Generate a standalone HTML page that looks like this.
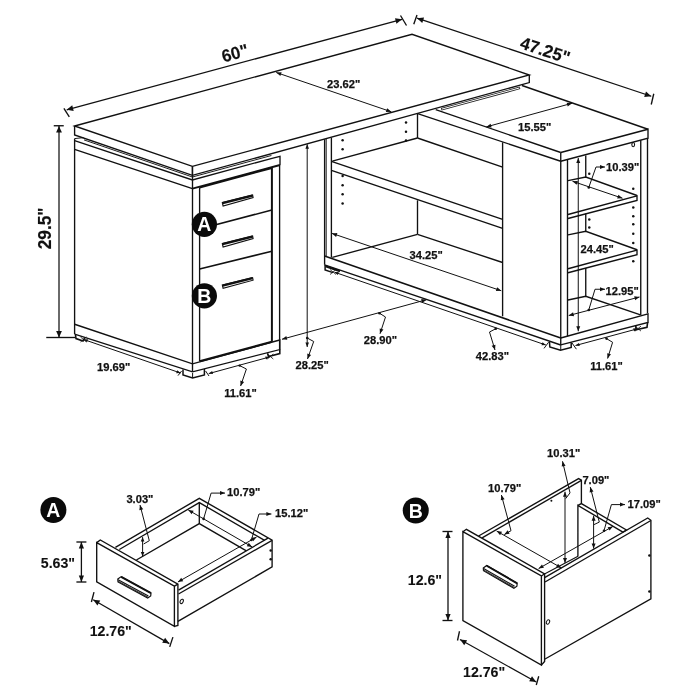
<!DOCTYPE html>
<html lang="en"><head><meta charset="utf-8"><title>L-shaped desk dimensions</title>
<style>
html,body{margin:0;padding:0;background:#fff;}
body{width:700px;height:700px;overflow:hidden;}
svg{display:block;will-change:transform;}
svg text{font-family:"Liberation Sans",Arial,Helvetica,sans-serif;}
</style></head><body>
<svg width="700" height="700" viewBox="0 0 700 700">
<rect width="700" height="700" fill="#fff"/>
<polygon points="74.60,126.00 412.00,34.25 529.30,75.00 192.40,166.40" fill="none" stroke="#111" stroke-width="1.35" stroke-linejoin="miter"/>
<polyline points="74.60,126.00 74.60,135.00 192.40,175.40 529.30,82.60 529.30,75.00" fill="none" stroke="#111" stroke-width="1.35" stroke-linejoin="miter"/>
<line x1="192.40" y1="166.40" x2="192.40" y2="175.40" stroke="#111" stroke-width="1.35"/>
<line x1="84.00" y1="139.90" x2="192.40" y2="177.00" stroke="#111" stroke-width="0.95"/>
<line x1="192.40" y1="177.00" x2="271.40" y2="155.50" stroke="#111" stroke-width="0.95"/>
<line x1="74.60" y1="138.60" x2="83.60" y2="137.60" stroke="#111" stroke-width="0.95"/>
<polyline points="74.60,140.70 192.40,180.00 272.00,158.30 280.00,156.40 280.00,165.00" fill="none" stroke="#111" stroke-width="1.35" stroke-linejoin="miter"/>
<polyline points="74.60,149.30 192.40,188.60" fill="none" stroke="#111" stroke-width="1.35" stroke-linejoin="miter"/>
<line x1="192.40" y1="188.60" x2="280.00" y2="165.00" stroke="#111" stroke-width="1.9"/>
<line x1="74.60" y1="138.60" x2="74.60" y2="334.20" stroke="#111" stroke-width="1.35"/>
<line x1="192.50" y1="166.40" x2="192.50" y2="371.80" stroke="#111" stroke-width="1.35"/>
<line x1="279.60" y1="165.00" x2="279.60" y2="349.60" stroke="#111" stroke-width="1.35"/>
<line x1="199.60" y1="187.50" x2="199.60" y2="361.30" stroke="#111" stroke-width="1.35"/>
<line x1="271.90" y1="168.00" x2="271.90" y2="341.80" stroke="#111" stroke-width="2.0"/>
<line x1="199.60" y1="187.60" x2="271.90" y2="168.00" stroke="#111" stroke-width="1.9"/>
<line x1="199.60" y1="229.00" x2="271.90" y2="210.00" stroke="#111" stroke-width="1.6"/>
<line x1="199.60" y1="269.00" x2="271.90" y2="251.20" stroke="#111" stroke-width="1.6"/>
<line x1="199.60" y1="361.30" x2="271.90" y2="341.80" stroke="#111" stroke-width="2.2"/>
<polygon points="222.30,202.60 252.60,195.00 253.10,197.60 223.10,206.00" fill="#fff" stroke="#111" stroke-width="1.1" stroke-linejoin="miter"/>
<line x1="222.60" y1="203.20" x2="252.60" y2="195.60" stroke="#111" stroke-width="2.3"/>
<polygon points="222.30,243.60 252.60,236.00 253.10,238.60 223.10,247.00" fill="#fff" stroke="#111" stroke-width="1.1" stroke-linejoin="miter"/>
<line x1="222.60" y1="244.20" x2="252.60" y2="236.60" stroke="#111" stroke-width="2.3"/>
<polygon points="222.30,285.00 252.60,277.60 253.10,280.20 223.10,288.40" fill="#fff" stroke="#111" stroke-width="1.1" stroke-linejoin="miter"/>
<line x1="222.60" y1="285.60" x2="252.60" y2="278.20" stroke="#111" stroke-width="2.3"/>
<polyline points="74.60,324.25 192.50,363.80 279.80,340.00 279.80,349.60 192.50,371.80 74.60,334.20" fill="none" stroke="#111" stroke-width="1.35" stroke-linejoin="miter"/>
<polyline points="183.00,369.50 183.00,375.00 192.60,378.00 204.40,375.00 204.40,369.00" fill="none" stroke="#111" stroke-width="1.5" stroke-linejoin="miter"/>
<line x1="192.60" y1="373.00" x2="192.60" y2="378.00" stroke="#111" stroke-width="1.0"/>
<polyline points="267.50,353.20 268.50,356.50 279.80,353.60 279.80,349.60" fill="none" stroke="#111" stroke-width="1.6" stroke-linejoin="miter"/>
<polyline points="75.50,335.00 76.00,338.60 83.00,341.00 84.50,338.00" fill="none" stroke="#111" stroke-width="1.6" stroke-linejoin="miter"/>
<circle cx="204.40" cy="224.30" r="12.6" fill="#0a0a0a"/>
<text x="204.40" y="231.32" font-size="19.5" font-weight="bold" text-anchor="middle" fill="#fff" textLength="14.08" lengthAdjust="spacingAndGlyphs">A</text>
<circle cx="204.40" cy="295.80" r="12.6" fill="#0a0a0a"/>
<text x="204.40" y="302.82" font-size="19.5" font-weight="bold" text-anchor="middle" fill="#fff" textLength="14.08" lengthAdjust="spacingAndGlyphs">B</text>
<line x1="324.60" y1="139.20" x2="324.60" y2="264.80" stroke="#111" stroke-width="1.35"/>
<line x1="326.20" y1="139.00" x2="326.20" y2="256.60" stroke="#111" stroke-width="0.95"/>
<line x1="331.40" y1="137.50" x2="331.40" y2="257.60" stroke="#111" stroke-width="1.35"/>
<circle cx="342.60" cy="140.30" r="1.25" fill="#111"/>
<circle cx="342.60" cy="149.20" r="1.25" fill="#111"/>
<circle cx="342.60" cy="176.00" r="1.25" fill="#111"/>
<circle cx="342.60" cy="185.20" r="1.25" fill="#111"/>
<circle cx="342.60" cy="194.30" r="1.25" fill="#111"/>
<circle cx="342.60" cy="203.40" r="1.25" fill="#111"/>
<circle cx="406.00" cy="122.60" r="1.25" fill="#111"/>
<circle cx="406.00" cy="131.70" r="1.25" fill="#111"/>
<circle cx="406.00" cy="140.60" r="1.25" fill="#111"/>
<line x1="417.50" y1="113.70" x2="417.50" y2="138.00" stroke="#111" stroke-width="1.35"/>
<line x1="417.50" y1="200.30" x2="417.50" y2="234.30" stroke="#111" stroke-width="1.35"/>
<line x1="332.30" y1="161.20" x2="417.50" y2="138.00" stroke="#111" stroke-width="1.35"/>
<line x1="417.50" y1="138.00" x2="502.60" y2="167.10" stroke="#111" stroke-width="1.35"/>
<line x1="331.40" y1="161.40" x2="502.60" y2="219.40" stroke="#111" stroke-width="1.35"/>
<line x1="331.40" y1="170.30" x2="502.60" y2="228.30" stroke="#111" stroke-width="1.35"/>
<line x1="417.50" y1="234.30" x2="502.60" y2="262.50" stroke="#111" stroke-width="1.35"/>
<line x1="332.30" y1="257.40" x2="417.50" y2="234.30" stroke="#111" stroke-width="1.35"/>
<line x1="502.60" y1="142.30" x2="502.60" y2="316.30" stroke="#111" stroke-width="1.35"/>
<line x1="435.70" y1="109.70" x2="560.75" y2="152.50" stroke="#111" stroke-width="1.35"/>
<line x1="417.70" y1="113.70" x2="560.75" y2="161.25" stroke="#111" stroke-width="1.35"/>
<line x1="441.20" y1="109.30" x2="520.00" y2="87.80" stroke="#222" stroke-width="2.7"/>
<line x1="441.90" y1="109.10" x2="519.30" y2="88.00" stroke="#fff" stroke-width="1.0"/>
<line x1="522.00" y1="85.50" x2="648.00" y2="129.25" stroke="#111" stroke-width="1.35"/>
<polyline points="560.75,152.50 648.00,129.25 648.00,138.25 560.75,161.25" fill="none" stroke="#111" stroke-width="1.35" stroke-linejoin="miter"/>
<line x1="324.60" y1="256.00" x2="560.75" y2="338.00" stroke="#111" stroke-width="1.5"/>
<line x1="324.60" y1="264.80" x2="560.75" y2="345.00" stroke="#111" stroke-width="1.35"/>
<polyline points="325.10,265.00 325.10,270.00 333.00,272.60" fill="none" stroke="#111" stroke-width="1.5" stroke-linejoin="miter"/>
<line x1="325.50" y1="266.30" x2="340.00" y2="271.20" stroke="#111" stroke-width="2.0"/>
<line x1="560.75" y1="152.50" x2="560.75" y2="345.00" stroke="#111" stroke-width="1.35"/>
<line x1="567.50" y1="159.50" x2="567.50" y2="336.20" stroke="#111" stroke-width="1.35"/>
<line x1="640.75" y1="140.20" x2="640.75" y2="315.00" stroke="#111" stroke-width="1.35"/>
<line x1="647.50" y1="138.25" x2="647.50" y2="313.25" stroke="#111" stroke-width="1.35"/>
<line x1="585.75" y1="155.50" x2="585.75" y2="177.00" stroke="#111" stroke-width="1.35"/>
<line x1="585.75" y1="213.50" x2="585.75" y2="231.25" stroke="#111" stroke-width="1.35"/>
<line x1="585.75" y1="268.00" x2="585.75" y2="296.25" stroke="#111" stroke-width="1.35"/>
<polyline points="568.00,180.60 585.75,177.00 637.00,195.50" fill="none" stroke="#111" stroke-width="1.35" stroke-linejoin="miter"/>
<polyline points="568.00,214.50 637.00,195.80 637.00,200.50 568.00,218.50" fill="none" stroke="#111" stroke-width="1.35" stroke-linejoin="miter"/>
<polyline points="568.00,234.85 585.75,231.25 637.00,249.75" fill="none" stroke="#111" stroke-width="1.35" stroke-linejoin="miter"/>
<polyline points="568.00,268.75 637.00,250.05 637.00,254.75 568.00,272.75" fill="none" stroke="#111" stroke-width="1.35" stroke-linejoin="miter"/>
<polyline points="568.00,300.00 585.75,296.25 640.50,314.80" fill="none" stroke="#111" stroke-width="1.35" stroke-linejoin="miter"/>
<polyline points="560.75,338.00 648.00,313.80 648.00,322.40 560.75,344.80" fill="none" stroke="#111" stroke-width="1.35" stroke-linejoin="miter"/>
<polyline points="549.50,342.00 549.80,347.00 560.50,350.30 571.20,347.40 571.20,342.50" fill="none" stroke="#111" stroke-width="1.5" stroke-linejoin="miter"/>
<line x1="560.75" y1="345.00" x2="560.75" y2="350.00" stroke="#111" stroke-width="1.0"/>
<polyline points="635.80,326.00 636.00,329.70 647.00,327.30 647.60,322.40" fill="none" stroke="#111" stroke-width="1.6" stroke-linejoin="miter"/>
<circle cx="633.25" cy="188.75" r="1.25" fill="#111"/>
<circle cx="633.25" cy="207.50" r="1.25" fill="#111"/>
<circle cx="633.25" cy="216.25" r="1.25" fill="#111"/>
<circle cx="633.25" cy="224.25" r="1.25" fill="#111"/>
<circle cx="633.25" cy="233.75" r="1.25" fill="#111"/>
<circle cx="633.25" cy="243.00" r="1.25" fill="#111"/>
<circle cx="633.25" cy="261.25" r="1.25" fill="#111"/>
<circle cx="589.25" cy="173.75" r="1.25" fill="#111"/>
<circle cx="589.25" cy="219.50" r="1.25" fill="#111"/>
<circle cx="589.25" cy="227.50" r="1.25" fill="#111"/>
<ellipse cx="633.2" cy="144.6" rx="1.4" ry="2.1" fill="none" stroke="#111" stroke-width="1.1"/>
<line x1="66.70" y1="109.80" x2="402.00" y2="19.30" stroke="#111" stroke-width="1.25"/>
<polygon points="402.00,19.30 396.48,23.79 394.97,18.19" fill="#111"/>
<polygon points="66.70,109.80 72.22,105.31 73.73,110.91" fill="#111"/>
<line x1="63.90" y1="108.30" x2="69.30" y2="116.90" stroke="#111" stroke-width="1.35"/>
<line x1="400.50" y1="15.50" x2="406.50" y2="25.50" stroke="#111" stroke-width="1.35"/>
<text x="236.50" y="59.00" font-size="17.5" font-weight="bold" text-anchor="middle" fill="#111" textLength="27.07" lengthAdjust="spacingAndGlyphs" stroke="#111" stroke-width="0.15" transform="rotate(-15 236.50 59.00)">60&quot;</text>
<line x1="417.00" y1="18.20" x2="651.25" y2="96.25" stroke="#111" stroke-width="1.25"/>
<polygon points="651.25,96.25 644.17,96.95 646.00,91.44" fill="#111"/>
<polygon points="417.00,18.20 424.08,17.50 422.25,23.01" fill="#111"/>
<line x1="417.00" y1="15.00" x2="413.75" y2="24.25" stroke="#111" stroke-width="1.35"/>
<line x1="653.75" y1="93.75" x2="651.25" y2="104.50" stroke="#111" stroke-width="1.35"/>
<text x="543.40" y="56.00" font-size="17.5" font-weight="bold" text-anchor="middle" fill="#111" textLength="51.31" lengthAdjust="spacingAndGlyphs" stroke="#111" stroke-width="0.15" transform="rotate(18 543.40 56.00)">47.25&quot;</text>
<line x1="59.00" y1="126.00" x2="59.00" y2="337.50" stroke="#111" stroke-width="1.25"/>
<polygon points="59.00,337.50 56.10,331.00 61.90,331.00" fill="#111"/>
<polygon points="59.00,126.00 61.90,132.50 56.10,132.50" fill="#111"/>
<line x1="53.75" y1="125.75" x2="63.75" y2="125.75" stroke="#111" stroke-width="1.35"/>
<line x1="46.25" y1="337.50" x2="75.00" y2="337.50" stroke="#111" stroke-width="1.35"/>
<text x="51.40" y="228.35" font-size="17.5" font-weight="bold" text-anchor="middle" fill="#111" textLength="41.72" lengthAdjust="spacingAndGlyphs" stroke="#111" stroke-width="0.15" transform="rotate(-90 51.40 228.35)">29.5&quot;</text>
<line x1="276.25" y1="72.50" x2="391.25" y2="111.75" stroke="#111" stroke-width="1.0"/>
<polygon points="391.25,111.75 385.87,112.03 387.16,108.24" fill="#111"/>
<polygon points="276.25,72.50 281.63,72.22 280.34,76.01" fill="#111"/>
<text x="327.00" y="88.00" font-size="11.8" font-weight="bold" text-anchor="start" fill="#111" textLength="33.23" lengthAdjust="spacingAndGlyphs" stroke="#111" stroke-width="0.25">23.62&quot;</text>
<line x1="486.30" y1="126.90" x2="572.00" y2="103.25" stroke="#111" stroke-width="1.0"/>
<polygon points="572.00,103.25 567.71,106.51 566.65,102.65" fill="#111"/>
<polygon points="486.30,126.90 490.59,123.64 491.65,127.50" fill="#111"/>
<text x="518.00" y="130.50" font-size="11.8" font-weight="bold" text-anchor="start" fill="#111" textLength="33.23" lengthAdjust="spacingAndGlyphs" stroke="#111" stroke-width="0.25">15.55&quot;</text>
<line x1="332.00" y1="233.40" x2="501.25" y2="290.75" stroke="#111" stroke-width="1.0"/>
<polygon points="501.25,290.75 495.87,291.04 497.16,287.25" fill="#111"/>
<polygon points="332.00,233.40 337.38,233.11 336.09,236.90" fill="#111"/>
<text x="409.50" y="258.75" font-size="11.8" font-weight="bold" text-anchor="start" fill="#111" textLength="33.23" lengthAdjust="spacingAndGlyphs" stroke="#111" stroke-width="0.25">34.25&quot;</text>
<line x1="307.20" y1="144.30" x2="307.20" y2="347.00" stroke="#111" stroke-width="1.0"/>
<polygon points="307.20,347.00 305.40,342.50 309.00,342.50" fill="#111"/>
<polygon points="307.20,144.30 309.00,148.80 305.40,148.80" fill="#111"/>
<polyline points="307.20,338.00 313.70,341.50 307.50,359.00" fill="none" stroke="#111" stroke-width="1.0" stroke-linejoin="miter"/>
<polygon points="307.50,359.00 307.28,353.62 311.05,354.95" fill="#111"/>
<circle cx="307.20" cy="338.00" r="1.3" fill="#111"/>
<text x="295.50" y="368.60" font-size="11.8" font-weight="bold" text-anchor="start" fill="#111" textLength="33.23" lengthAdjust="spacingAndGlyphs" stroke="#111" stroke-width="0.25">28.25&quot;</text>
<line x1="282.00" y1="339.25" x2="426.50" y2="299.70" stroke="#111" stroke-width="1.0"/>
<polygon points="426.50,299.70 422.21,302.95 421.15,299.09" fill="#111"/>
<polygon points="282.00,339.25 286.29,336.00 287.35,339.86" fill="#111"/>
<polyline points="379.50,313.25 385.50,317.00 380.00,333.75" fill="none" stroke="#111" stroke-width="1.0" stroke-linejoin="miter"/>
<polygon points="380.00,333.75 379.66,328.38 383.46,329.62" fill="#111"/>
<circle cx="379.50" cy="313.25" r="1.3" fill="#111"/>
<text x="363.75" y="344.20" font-size="11.8" font-weight="bold" text-anchor="start" fill="#111" textLength="33.23" lengthAdjust="spacingAndGlyphs" stroke="#111" stroke-width="0.25">28.90&quot;</text>
<line x1="334.50" y1="272.20" x2="545.80" y2="345.00" stroke="#111" stroke-width="1.0"/>
<polygon points="545.80,345.00 541.50,345.21 542.54,342.18" fill="#111"/>
<polygon points="334.50,272.20 338.80,271.99 337.76,275.02" fill="#111"/>
<polyline points="495.75,328.75 489.50,332.00 495.00,350.00" fill="none" stroke="#111" stroke-width="1.0" stroke-linejoin="miter"/>
<polygon points="495.00,350.00 491.63,345.80 495.45,344.63" fill="#111"/>
<circle cx="495.75" cy="328.75" r="1.3" fill="#111"/>
<text x="475.75" y="360.30" font-size="11.8" font-weight="bold" text-anchor="start" fill="#111" textLength="33.23" lengthAdjust="spacingAndGlyphs" stroke="#111" stroke-width="0.25">42.83&quot;</text>
<line x1="83.75" y1="339.50" x2="180.50" y2="373.00" stroke="#111" stroke-width="1.0"/>
<polygon points="180.50,373.00 176.20,373.20 177.24,370.18" fill="#111"/>
<polygon points="83.75,339.50 88.05,339.30 87.01,342.32" fill="#111"/>
<text x="97.00" y="371.25" font-size="11.8" font-weight="bold" text-anchor="start" fill="#111" textLength="33.23" lengthAdjust="spacingAndGlyphs" stroke="#111" stroke-width="0.25">19.69&quot;</text>
<line x1="208.75" y1="373.60" x2="269.50" y2="357.00" stroke="#111" stroke-width="1.0"/>
<polygon points="269.50,357.00 266.06,359.60 265.22,356.51" fill="#111"/>
<polygon points="208.75,373.60 212.19,371.00 213.03,374.09" fill="#111"/>
<polyline points="239.60,365.60 246.40,369.00 240.60,386.00" fill="none" stroke="#111" stroke-width="1.0" stroke-linejoin="miter"/>
<polygon points="240.60,386.00 240.32,380.62 244.11,381.91" fill="#111"/>
<circle cx="239.60" cy="365.60" r="1.2" fill="#111"/>
<text x="224.20" y="397.20" font-size="11.8" font-weight="bold" text-anchor="start" fill="#111" textLength="32.61" lengthAdjust="spacingAndGlyphs" stroke="#111" stroke-width="0.25">11.61&quot;</text>
<line x1="575.50" y1="345.50" x2="637.50" y2="328.80" stroke="#111" stroke-width="1.0"/>
<polygon points="637.50,328.80 634.05,331.39 633.22,328.30" fill="#111"/>
<polygon points="575.50,345.50 578.95,342.91 579.78,346.00" fill="#111"/>
<polyline points="606.50,338.60 612.60,342.30 607.60,358.50" fill="none" stroke="#111" stroke-width="1.0" stroke-linejoin="miter"/>
<polygon points="607.60,358.50 607.16,353.13 610.99,354.31" fill="#111"/>
<circle cx="606.50" cy="338.60" r="1.3" fill="#111"/>
<text x="590.20" y="370.20" font-size="11.8" font-weight="bold" text-anchor="start" fill="#111" textLength="32.61" lengthAdjust="spacingAndGlyphs" stroke="#111" stroke-width="0.25">11.61&quot;</text>
<line x1="572.50" y1="181.25" x2="622.50" y2="198.25" stroke="#111" stroke-width="1.0"/>
<polygon points="622.50,198.25 617.12,198.53 618.41,194.75" fill="#111"/>
<polygon points="572.50,181.25 577.88,180.97 576.59,184.75" fill="#111"/>
<polyline points="588.75,187.50 596.00,167.00 605.00,167.00" fill="none" stroke="#111" stroke-width="1.0" stroke-linejoin="miter"/>
<polygon points="605.00,167.00 600.00,169.00 600.00,165.00" fill="#111"/>
<circle cx="588.75" cy="187.50" r="1.3" fill="#111"/>
<text x="606.00" y="171.25" font-size="11.8" font-weight="bold" text-anchor="start" fill="#111" textLength="33.23" lengthAdjust="spacingAndGlyphs" stroke="#111" stroke-width="0.25">10.39&quot;</text>
<line x1="578.25" y1="158.00" x2="578.25" y2="331.25" stroke="#111" stroke-width="1.0"/>
<polygon points="578.25,331.25 576.25,326.25 580.25,326.25" fill="#111"/>
<polygon points="578.25,158.00 580.25,163.00 576.25,163.00" fill="#111"/>
<text x="580.50" y="252.50" font-size="11.8" font-weight="bold" text-anchor="start" fill="#111" textLength="33.23" lengthAdjust="spacingAndGlyphs" stroke="#111" stroke-width="0.25">24.45&quot;</text>
<line x1="568.75" y1="315.50" x2="639.50" y2="297.00" stroke="#111" stroke-width="1.0"/>
<polygon points="639.50,297.00 635.17,300.20 634.16,296.33" fill="#111"/>
<polygon points="568.75,315.50 573.08,312.30 574.09,316.17" fill="#111"/>
<polyline points="588.75,310.00 595.00,289.25 605.00,289.25" fill="none" stroke="#111" stroke-width="1.0" stroke-linejoin="miter"/>
<polygon points="605.00,289.25 600.00,291.25 600.00,287.25" fill="#111"/>
<circle cx="588.75" cy="310.00" r="1.3" fill="#111"/>
<text x="605.50" y="294.50" font-size="11.8" font-weight="bold" text-anchor="start" fill="#111" textLength="33.23" lengthAdjust="spacingAndGlyphs" stroke="#111" stroke-width="0.25">12.95&quot;</text>
<line x1="80.50" y1="337.00" x2="86.50" y2="342.00" stroke="#111" stroke-width="0.8"/>
<line x1="80.50" y1="342.00" x2="86.50" y2="337.00" stroke="#111" stroke-width="0.8"/>
<line x1="267.30" y1="354.00" x2="273.30" y2="359.00" stroke="#111" stroke-width="0.8"/>
<line x1="267.30" y1="359.00" x2="273.30" y2="354.00" stroke="#111" stroke-width="0.8"/>
<line x1="544.00" y1="348.40" x2="548.60" y2="342.20" stroke="#111" stroke-width="1.0"/>
<line x1="330.00" y1="269.50" x2="336.00" y2="274.50" stroke="#111" stroke-width="0.8"/>
<line x1="330.00" y1="274.50" x2="336.00" y2="269.50" stroke="#111" stroke-width="0.8"/>
<line x1="635.00" y1="326.10" x2="641.00" y2="331.10" stroke="#111" stroke-width="0.8"/>
<line x1="635.00" y1="331.10" x2="641.00" y2="326.10" stroke="#111" stroke-width="0.8"/>
<line x1="571.80" y1="342.70" x2="576.40" y2="349.20" stroke="#111" stroke-width="1.0"/>
<line x1="178.00" y1="375.60" x2="181.60" y2="371.00" stroke="#111" stroke-width="1.0"/>
<line x1="205.60" y1="371.00" x2="209.00" y2="376.00" stroke="#111" stroke-width="1.0"/>
<circle cx="53.40" cy="510.00" r="13" fill="#0a0a0a"/>
<text x="53.40" y="517.02" font-size="19.5" font-weight="bold" text-anchor="middle" fill="#fff" textLength="14.08" lengthAdjust="spacingAndGlyphs">A</text>
<polygon points="96.70,542.60 174.40,586.20 174.40,626.40 96.70,581.90" fill="none" stroke="#111" stroke-width="1.35" stroke-linejoin="miter"/>
<polyline points="96.70,542.60 100.30,540.00 177.90,584.20 177.90,625.40 174.40,626.40" fill="none" stroke="#111" stroke-width="1.35" stroke-linejoin="miter"/>
<line x1="174.40" y1="586.20" x2="177.90" y2="584.20" stroke="#111" stroke-width="1.35"/>
<polygon points="117.80,579.10 121.20,576.60 151.00,593.00 150.70,596.00 147.70,598.00 118.00,581.80" fill="#fff" stroke="#111" stroke-width="1.2" stroke-linejoin="miter"/>
<line x1="121.20" y1="576.80" x2="151.00" y2="593.20" stroke="#111" stroke-width="1.9"/>
<line x1="118.10" y1="579.70" x2="148.40" y2="596.00" stroke="#111" stroke-width="1.1"/>
<line x1="118.00" y1="581.20" x2="148.00" y2="597.30" stroke="#333" stroke-width="1.1"/>
<polyline points="115.40,547.40 199.30,498.30 272.10,540.10 272.10,566.90 177.90,621.40" fill="none" stroke="#111" stroke-width="1.35" stroke-linejoin="miter"/>
<polyline points="119.30,549.50 199.30,502.60 264.60,540.40" fill="none" stroke="#111" stroke-width="1.35" stroke-linejoin="miter"/>
<line x1="199.30" y1="502.60" x2="199.30" y2="523.60" stroke="#111" stroke-width="1.35"/>
<polyline points="136.40,560.00 199.30,523.60 246.40,550.90" fill="none" stroke="#111" stroke-width="1.35" stroke-linejoin="miter"/>
<line x1="272.10" y1="540.30" x2="178.50" y2="594.00" stroke="#111" stroke-width="1.35"/>
<line x1="268.00" y1="538.20" x2="178.50" y2="590.20" stroke="#111" stroke-width="1.35"/>
<ellipse cx="181.7" cy="601.4" rx="1.5" ry="2.3" transform="rotate(25 181.7 601.4)" fill="none" stroke="#111" stroke-width="1"/>
<circle cx="270.70" cy="550.40" r="1.25" fill="#111"/>
<circle cx="270.70" cy="559.30" r="1.25" fill="#111"/>
<line x1="81.40" y1="542.00" x2="81.40" y2="582.00" stroke="#111" stroke-width="1.3"/>
<polygon points="81.40,582.00 78.80,575.50 84.00,575.50" fill="#111"/>
<polygon points="81.40,542.00 84.00,548.50 78.80,548.50" fill="#111"/>
<line x1="76.40" y1="542.00" x2="86.40" y2="542.00" stroke="#111" stroke-width="1.35"/>
<line x1="76.40" y1="582.00" x2="86.40" y2="582.00" stroke="#111" stroke-width="1.35"/>
<text x="40.80" y="567.50" font-size="14.9" font-weight="bold" text-anchor="start" fill="#111" textLength="34.26" lengthAdjust="spacingAndGlyphs" stroke="#111" stroke-width="0.1">5.63&quot;</text>
<line x1="93.20" y1="599.70" x2="169.30" y2="643.60" stroke="#111" stroke-width="1.25"/>
<polygon points="169.30,643.60 162.22,642.86 165.12,637.84" fill="#111"/>
<polygon points="93.20,599.70 100.28,600.44 97.38,605.46" fill="#111"/>
<line x1="94.00" y1="592.10" x2="91.40" y2="602.00" stroke="#111" stroke-width="1.35"/>
<line x1="172.90" y1="637.10" x2="169.70" y2="646.90" stroke="#111" stroke-width="1.35"/>
<text x="89.70" y="635.50" font-size="14.9" font-weight="bold" text-anchor="start" fill="#111" textLength="42.13" lengthAdjust="spacingAndGlyphs" stroke="#111" stroke-width="0.1">12.76&quot;</text>
<polyline points="143.60,544.00 149.30,540.70 140.00,505.00" fill="none" stroke="#111" stroke-width="1.0" stroke-linejoin="miter"/>
<polygon points="140.00,505.00 143.20,509.33 139.33,510.34" fill="#111"/>
<line x1="142.60" y1="537.10" x2="142.60" y2="556.40" stroke="#111" stroke-width="1.0"/>
<polygon points="142.60,556.40 140.80,551.90 144.40,551.90" fill="#111"/>
<polygon points="142.60,537.10 144.40,541.60 140.80,541.60" fill="#111"/>
<text x="126.40" y="502.60" font-size="11.8" font-weight="bold" text-anchor="start" fill="#111" textLength="27.02" lengthAdjust="spacingAndGlyphs" stroke="#111" stroke-width="0.25">3.03&quot;</text>
<line x1="188.30" y1="510.00" x2="252.10" y2="546.90" stroke="#111" stroke-width="1.0"/>
<polygon points="252.10,546.90 246.77,546.13 248.77,542.67" fill="#111"/>
<polygon points="188.30,510.00 193.63,510.77 191.63,514.23" fill="#111"/>
<polyline points="203.60,518.90 211.10,493.10 225.00,493.10" fill="none" stroke="#111" stroke-width="1.0" stroke-linejoin="miter"/>
<polygon points="225.00,493.10 220.00,495.10 220.00,491.10" fill="#111"/>
<circle cx="203.60" cy="518.90" r="1.3" fill="#111"/>
<text x="227.10" y="495.90" font-size="11.8" font-weight="bold" text-anchor="start" fill="#111" textLength="33.23" lengthAdjust="spacingAndGlyphs" stroke="#111" stroke-width="0.25">10.79&quot;</text>
<line x1="177.90" y1="582.00" x2="256.50" y2="537.10" stroke="#111" stroke-width="1.0"/>
<polygon points="256.50,537.10 253.15,541.32 251.17,537.84" fill="#111"/>
<polygon points="177.90,582.00 181.25,577.78 183.23,581.26" fill="#111"/>
<polyline points="251.40,540.00 259.00,514.00 271.40,514.00" fill="none" stroke="#111" stroke-width="1.0" stroke-linejoin="miter"/>
<polygon points="271.40,514.00 266.40,516.00 266.40,512.00" fill="#111"/>
<circle cx="251.40" cy="540.00" r="1.3" fill="#111"/>
<text x="275.00" y="517.10" font-size="11.8" font-weight="bold" text-anchor="start" fill="#111" textLength="33.23" lengthAdjust="spacingAndGlyphs" stroke="#111" stroke-width="0.25">15.12&quot;</text>
<circle cx="415.75" cy="510.50" r="13" fill="#0a0a0a"/>
<text x="415.75" y="517.52" font-size="19.5" font-weight="bold" text-anchor="middle" fill="#fff" textLength="14.08" lengthAdjust="spacingAndGlyphs">B</text>
<polygon points="462.90,531.70 541.40,576.00 541.40,665.00 462.90,620.50" fill="none" stroke="#111" stroke-width="1.35" stroke-linejoin="miter"/>
<polyline points="462.90,531.70 466.40,529.30 544.60,573.80 544.60,661.50 541.40,665.00" fill="none" stroke="#111" stroke-width="1.35" stroke-linejoin="miter"/>
<line x1="541.40" y1="576.00" x2="544.60" y2="573.80" stroke="#111" stroke-width="1.35"/>
<polygon points="483.30,568.00 486.70,565.50 517.20,583.20 516.90,586.20 513.90,588.20 483.50,570.70" fill="#fff" stroke="#111" stroke-width="1.2" stroke-linejoin="miter"/>
<line x1="486.70" y1="565.70" x2="517.20" y2="583.40" stroke="#111" stroke-width="1.9"/>
<line x1="483.60" y1="568.60" x2="514.60" y2="586.20" stroke="#111" stroke-width="1.1"/>
<line x1="483.50" y1="570.10" x2="514.20" y2="587.50" stroke="#333" stroke-width="1.1"/>
<polyline points="478.60,536.00 578.60,478.60 581.40,480.20 581.40,503.40" fill="none" stroke="#111" stroke-width="1.35" stroke-linejoin="miter"/>
<line x1="482.10" y1="537.90" x2="581.40" y2="480.40" stroke="#111" stroke-width="1.35"/>
<polyline points="577.90,556.40 577.90,505.40 622.90,532.10" fill="none" stroke="#111" stroke-width="1.35" stroke-linejoin="miter"/>
<polyline points="577.90,505.40 581.40,503.60 626.40,530.00 622.90,532.10" fill="none" stroke="#111" stroke-width="1.35" stroke-linejoin="miter"/>
<polyline points="544.60,577.70 647.70,518.00 650.90,520.30 650.90,598.75 544.60,659.25" fill="none" stroke="#111" stroke-width="1.35" stroke-linejoin="miter"/>
<line x1="545.00" y1="582.00" x2="650.90" y2="520.50" stroke="#111" stroke-width="1.35"/>
<line x1="544.50" y1="574.00" x2="578.00" y2="556.20" stroke="#111" stroke-width="1.1"/>
<circle cx="649.40" cy="555.40" r="1.25" fill="#111"/>
<circle cx="649.40" cy="591.40" r="1.25" fill="#111"/>
<circle cx="551.40" cy="500.70" r="1.0" fill="#111"/>
<ellipse cx="548" cy="622" rx="1.5" ry="2.3" transform="rotate(25 548 622)" fill="none" stroke="#111" stroke-width="1"/>
<line x1="448.00" y1="531.50" x2="448.00" y2="620.50" stroke="#111" stroke-width="1.3"/>
<polygon points="448.00,620.50 445.40,614.00 450.60,614.00" fill="#111"/>
<polygon points="448.00,531.50 450.60,538.00 445.40,538.00" fill="#111"/>
<line x1="442.50" y1="531.50" x2="452.50" y2="531.50" stroke="#111" stroke-width="1.35"/>
<line x1="442.50" y1="620.50" x2="452.50" y2="620.50" stroke="#111" stroke-width="1.35"/>
<text x="407.80" y="584.75" font-size="14.9" font-weight="bold" text-anchor="start" fill="#111" textLength="34.26" lengthAdjust="spacingAndGlyphs" stroke="#111" stroke-width="0.1">12.6&quot;</text>
<line x1="460.00" y1="639.50" x2="536.25" y2="682.00" stroke="#111" stroke-width="1.25"/>
<polygon points="536.25,682.00 529.16,681.37 531.98,676.30" fill="#111"/>
<polygon points="460.00,639.50 467.09,640.13 464.27,645.20" fill="#111"/>
<line x1="459.50" y1="631.25" x2="457.50" y2="640.50" stroke="#111" stroke-width="1.35"/>
<line x1="538.75" y1="676.25" x2="536.25" y2="685.00" stroke="#111" stroke-width="1.35"/>
<text x="463.05" y="677.25" font-size="14.9" font-weight="bold" text-anchor="start" fill="#111" textLength="42.13" lengthAdjust="spacingAndGlyphs" stroke="#111" stroke-width="0.1">12.76&quot;</text>
<polyline points="504.30,534.60 511.00,530.70 501.40,495.00" fill="none" stroke="#111" stroke-width="1.0" stroke-linejoin="miter"/>
<polygon points="501.40,495.00 504.63,499.31 500.77,500.35" fill="#111"/>
<polygon points="504.30,534.60 507.62,530.36 509.63,533.81" fill="#111"/>
<line x1="496.70" y1="531.10" x2="561.40" y2="567.90" stroke="#111" stroke-width="1.0"/>
<polygon points="561.40,567.90 556.07,567.17 558.04,563.69" fill="#111"/>
<polygon points="496.70,531.10 502.03,531.83 500.06,535.31" fill="#111"/>
<text x="488.10" y="491.70" font-size="11.8" font-weight="bold" text-anchor="start" fill="#111" textLength="33.23" lengthAdjust="spacingAndGlyphs" stroke="#111" stroke-width="0.25">10.79&quot;</text>
<polyline points="565.70,498.60 570.00,492.90 562.50,461.25" fill="none" stroke="#111" stroke-width="1.0" stroke-linejoin="miter"/>
<polygon points="562.50,461.25 565.60,465.65 561.71,466.58" fill="#111"/>
<line x1="565.00" y1="491.70" x2="565.00" y2="562.90" stroke="#111" stroke-width="1.0"/>
<polygon points="565.00,562.90 563.00,557.90 567.00,557.90" fill="#111"/>
<polygon points="565.00,491.70 567.00,496.70 563.00,496.70" fill="#111"/>
<text x="547.00" y="457.00" font-size="11.8" font-weight="bold" text-anchor="start" fill="#111" textLength="33.23" lengthAdjust="spacingAndGlyphs" stroke="#111" stroke-width="0.25">10.31&quot;</text>
<polyline points="594.00,524.60 599.30,522.10 590.30,487.10" fill="none" stroke="#111" stroke-width="1.0" stroke-linejoin="miter"/>
<polygon points="590.30,487.10 593.48,491.44 589.61,492.44" fill="#111"/>
<line x1="593.60" y1="515.70" x2="593.60" y2="548.50" stroke="#111" stroke-width="1.0"/>
<polygon points="593.60,548.50 591.60,543.50 595.60,543.50" fill="#111"/>
<polygon points="593.60,515.70 595.60,520.70 591.60,520.70" fill="#111"/>
<text x="582.40" y="483.60" font-size="11.8" font-weight="bold" text-anchor="start" fill="#111" textLength="27.02" lengthAdjust="spacingAndGlyphs" stroke="#111" stroke-width="0.25">7.09&quot;</text>
<line x1="538.60" y1="568.60" x2="612.90" y2="526.40" stroke="#111" stroke-width="1.0"/>
<polygon points="612.90,526.40 609.54,530.61 607.56,527.13" fill="#111"/>
<polygon points="538.60,568.60 541.96,564.39 543.94,567.87" fill="#111"/>
<polyline points="604.00,530.70 611.40,504.60 625.00,504.60" fill="none" stroke="#111" stroke-width="1.0" stroke-linejoin="miter"/>
<polygon points="625.00,504.60 620.00,506.60 620.00,502.60" fill="#111"/>
<circle cx="604.00" cy="530.70" r="1.3" fill="#111"/>
<text x="627.60" y="508.30" font-size="11.8" font-weight="bold" text-anchor="start" fill="#111" textLength="33.23" lengthAdjust="spacingAndGlyphs" stroke="#111" stroke-width="0.25">17.09&quot;</text>
</svg>
</body></html>
